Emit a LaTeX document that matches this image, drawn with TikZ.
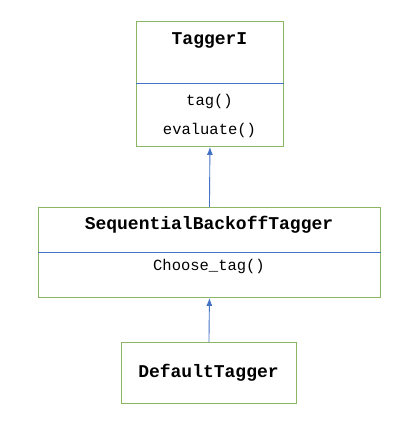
\documentclass[tikz,border=0pt]{standalone}
\usepackage{fontspec}
\setmonofont{Liberation Mono}
\usetikzlibrary{arrows.meta}
\definecolor{boxgreen}{RGB}{140,182,100}
\definecolor{lineblue}{RGB}{68,114,196}
\tikzset{
  classbox/.style={draw=boxgreen, line width=0.9pt, inner sep=0pt, anchor=north west},
  divider/.style={draw=lineblue, line width=0.8pt},
  classname/.style={font=\ttfamily\bfseries\fontsize{18}{20}\selectfont},
  method/.style={font=\ttfamily\fontsize{15.5}{18}\selectfont},
  inherit/.style={draw=lineblue, line width=0.9pt, -{Latex[length=8pt,width=6pt]}}
}
\begin{document}
\begin{tikzpicture}[x=1pt,y=-1pt]
\fill[white] (0,0) rectangle (408,421);
\useasboundingbox (0,0) rectangle (408,421);
% TaggerI
\node[classbox, minimum width=147pt, minimum height=125pt] (tagger) at (136,21) {};
\draw[divider] ([yshift=-62pt]tagger.north west) -- ([yshift=-62pt]tagger.north east);
\node[classname] (taggername) at (209.5,40) {TaggerI};
\node[method] (tagm) at (209.5,101) {tag()};
\node[method] (evalm) at (209.5,130) {evaluate()};
% SequentialBackoffTagger
\node[classbox, minimum width=342pt, minimum height=90pt] (seq) at (38,207) {};
\draw[divider] ([yshift=-45pt]seq.north west) -- ([yshift=-45pt]seq.north east);
\node[classname] (seqname) at (209,225) {SequentialBackoffTagger};
\node[method] (choosem) at (209,266) {Choose\_tag()};
% DefaultTagger
\node[classbox, minimum width=175pt, minimum height=61pt] (default) at (121,342) {};
\node[classname] (defaultname) at (208.5,373) {DefaultTagger};
% inheritance
\draw[inherit] (default.north) -- (seq.south);
\draw[inherit] (seq.north) -- (tagger.south);
\end{tikzpicture}
\end{document}
